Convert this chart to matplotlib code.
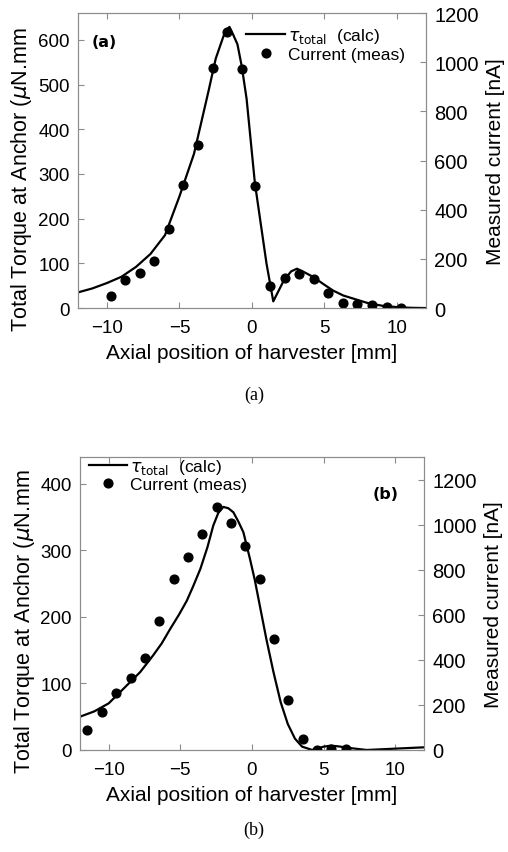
import matplotlib.pyplot as plt
from matplotlib.lines import Line2D

plt.rcParams['font.family'] = ['Liberation Sans', 'DejaVu Sans']
plt.rcParams['mathtext.fontset'] = 'dejavusans'

# panel (a): calculated torque (left axis, uN.mm)
a_calc_x = [-12, -11, -10, -9, -8, -7, -6, -5, -4, -3, -2.5, -2, -1.8, -1.55, -1.3, -1.0,
            -0.7, -0.37, 0.2, 0.6, 1.0, 1.47, 2.2, 2.7, 3.1, 3.5, 4.2, 5.0, 5.6, 6.3, 6.8,
            7.9, 9.0, 10.2, 11.0, 12]
a_calc_y = [35, 44, 56, 70, 92, 121, 163, 250, 345, 485, 558, 605, 622, 629, 612, 590,
            540, 468, 280, 190, 100, 15, 62, 82, 88, 82, 70, 52, 39, 28, 23,
            12, 5, 1.5, 0.5, 0]
# panel (a): measured current (right axis, nA)
a_meas_x = [-9.7, -8.74, -7.71, -6.74, -5.71, -4.74, -3.71, -2.72, -1.71, -0.70, 0.24,
            1.27, 2.29, 3.25, 4.26, 5.27, 6.28, 7.27, 8.28, 9.29, 10.3]
a_meas_y = [50, 116, 144, 191, 322, 500, 665, 976, 1125, 971, 498,
            91, 122, 140, 120, 62, 20, 15, 11, 4, 2]

# panel (b)
b_calc_x = [-12, -11, -10, -9.2, -8.5, -7.8, -6.9, -6.3, -5.7, -5.1, -4.55, -4.1, -3.6,
            -3.1, -2.7, -2.35, -2.0, -1.65, -1.3, -0.95, -0.6, -0.14, 0.2, 0.5, 1, 1.5,
            2, 2.5, 3, 3.5, 4.2, 5, 5.5, 6, 7, 8, 9, 10, 11, 12]
b_calc_y = [50, 58, 70, 87, 102, 117, 142, 160, 182, 203, 224, 246, 272,
            305, 337, 356, 365, 363, 357, 343, 327, 287, 255, 222, 167, 117,
            72, 39, 17, 5, 0, 5, 6.5, 5.5, 2.5, 0, 1, 2, 3, 4]
b_meas_x = [-11.49, -10.47, -9.47, -8.47, -7.47, -6.47, -5.47, -4.47, -3.49, -2.47,
            -1.47, -0.47, 0.53, 1.53, 2.53, 3.53, 4.53, 5.53, 6.53]
b_meas_y = [89, 167, 253, 320, 410, 573, 760, 856, 957, 1079,
            1009, 904, 760, 492, 222, 49, 2, 4, 4]

xticks = [-10, -5, 0, 5, 10]
right_ticks = [0, 200, 400, 600, 800, 1000, 1200]
ylab = r'Total Torque at Anchor ($\mu$N.mm'
label_calc = r'$\tau_{\mathrm{total}}$  (calc)'
label_meas = 'Current (meas)'

fig = plt.figure(figsize=(5.08, 8.53), dpi=100)


def style(ax, right=False):
    for s in ax.spines.values():
        s.set_color('#8c8c8c')
        s.set_linewidth(0.8)
    ax.tick_params(direction='in', length=4, width=0.8, color='#8c8c8c',
                   labelsize=14.5 if right else 13.5, pad=6,
                   top=not right, right=right, left=not right)
    ax.tick_params(axis='x', pad=8)


def panel(rect, cx, cy, mx, my, ylim_l, ylim_r, left_ticks, tag, tag_pos, leg_loc, leg_anchor):
    ax = fig.add_axes(rect)
    ax.plot(cx, cy, color='black', lw=1.6)
    ax.set_xlim(-12, 12)
    ax.set_ylim(*ylim_l)
    ax.set_xticks(xticks)
    ax.set_yticks(left_ticks)
    ax.set_xlabel('Axial position of harvester [mm]', fontsize=15, labelpad=5)
    ax.set_ylabel(ylab, fontsize=15.5)
    ax.yaxis.set_label_coords(-0.125, 0.44)
    style(ax)
    ax2 = ax.twinx()
    ax2.plot(mx, my, 'o', color='black', ms=6.3)
    ax2.set_ylim(*ylim_r)
    ax2.set_yticks(right_ticks)
    ax2.set_ylabel('Measured current [nA]', fontsize=15, labelpad=5)
    style(ax2, right=True)
    ax2.text(tag_pos[0], tag_pos[1], tag, transform=ax2.transAxes, fontsize=11.5,
             fontweight='bold', family='DejaVu Sans')
    handles = [Line2D([], [], color='black', lw=1.6),
               Line2D([], [], marker='o', ls='', color='black', ms=6.3)]
    ax2.legend(handles, [label_calc, label_meas], loc=leg_loc, bbox_to_anchor=leg_anchor,
               frameon=False, fontsize=12.5, handlelength=2.2, handletextpad=0.2,
               labelspacing=0.1, borderaxespad=0)
    return ax, ax2


panel([0.1535, 0.6377, 0.685, 0.3458], a_calc_x, a_calc_y, a_meas_x, a_meas_y,
      (0, 660), (0, 1200), [0, 100, 200, 300, 400, 500, 600], '(a)', (0.04, 0.89),
      'upper right', (0.96, 0.98))
panel([0.1575, 0.1196, 0.677, 0.3435], b_calc_x, b_calc_y, b_meas_x, b_meas_y,
      (0, 440), (0, 1300), [0, 100, 200, 300, 400], '(b)', (0.85, 0.86),
      'upper left', (0.005, 1.025))

fig.text(0.5, 1 - 395 / 853, '(a)', ha='center', va='center', fontsize=13,
         family='Liberation Serif')
fig.text(0.5, 1 - 830 / 853, '(b)', ha='center', va='center', fontsize=13,
         family='Liberation Serif')

fig.savefig('out.png', dpi=100)
